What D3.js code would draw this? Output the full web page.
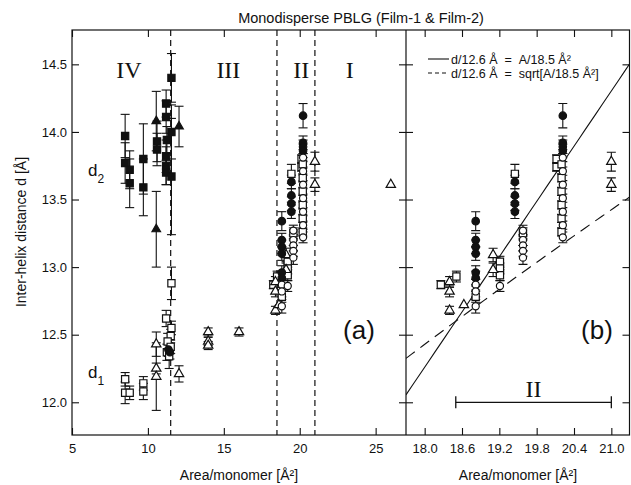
<!DOCTYPE html>
<html>
<head>
<meta charset="utf-8">
<script src="https://cdn.jsdelivr.net/npm/d3@7"></script>
<style>
  body { margin: 0; background: #fff; }
  text { font-family: "Liberation Sans", Arial, sans-serif; fill: #111; }
</style>
</head>
<body>
<svg></svg>
<script>
// each point: [area per monomer (Å²), inter-helix distance d (Å), error (Å)]
const filledSquares = [
  [8.5, 13.97, 0.16], [8.5, 13.77, 0.15], [8.8, 13.72, 0.14], [8.8, 13.62, 0.18],
  [9.7, 13.80, 0.26], [9.7, 13.59, 0.21], [10.6, 13.93, 0.15], [10.6, 13.87, 0.12],
  [11.2, 14.21, 0.10], [11.2, 14.11, 0.12], [11.25, 13.94, 0.10], [11.2, 13.82, 0.12],
  [11.2, 13.75, 0.14], [11.2, 13.70, 0.09], [11.55, 14.40, 0.18], [11.55, 14.00, 0.20],
  [11.55, 13.67, 0.43]
];
const filledTriangles = [
  [10.55, 14.08, 0.22], [10.55, 13.28, 0.28], [12.05, 14.04, 0.15]
];
const openSquares = [
  [8.5, 12.17, 0.05], [8.5, 12.07, 0.08], [8.8, 12.07, 0.05], [9.7, 12.14, 0.05],
  [9.7, 12.08, 0.06], [11.2, 12.62, 0.06], [11.55, 12.88, 0.12], [11.55, 12.55, 0.05],
  [11.5, 12.49, 0.05], [11.3, 12.45, 0.06], [11.5, 12.41, 0.05], [11.25, 12.37, 0.06],
  [11.4, 12.34, 0.09],
  [18.26, 12.87, 0.03], [18.51, 12.93, 0.04], [18.82, 12.78, 0.04], [19.21, 13.04, 0.04],
  [19.21, 12.99, 0.04], [19.21, 12.94, 0.04], [19.45, 13.69, 0.07], [19.58, 13.25, 0.04],
  [20.12, 13.80, 0.03], [20.12, 13.74, 0.03], [20.2, 13.76, 0.03], [20.2, 13.66, 0.03],
  [20.2, 13.56, 0.03], [20.2, 13.46, 0.03], [20.2, 13.36, 0.03], [20.2, 13.26, 0.03]
];
const filledCircles = [
  [11.35, 12.39, 0.05], [11.45, 12.37, 0.05],
  [18.82, 13.34, 0.07], [18.82, 13.20, 0.05], [18.82, 13.15, 0.05], [18.82, 13.10, 0.05],
  [18.82, 12.96, 0.05], [18.82, 12.92, 0.05], [19.45, 13.63, 0.05], [19.45, 13.53, 0.05],
  [19.45, 13.47, 0.05], [19.45, 13.41, 0.05], [20.22, 14.12, 0.09], [20.22, 13.92, 0.05],
  [20.22, 13.89, 0.05], [20.22, 13.86, 0.05]
];
const openCircles = [
  [18.82, 12.87, 0.04], [18.82, 12.82, 0.04], [18.82, 12.71, 0.05], [19.21, 12.86, 0.04],
  [19.58, 13.27, 0.04], [19.58, 13.20, 0.04], [19.58, 13.16, 0.04], [19.58, 13.12, 0.04],
  [19.58, 13.07, 0.05], [20.22, 13.81, 0.03], [20.22, 13.71, 0.03], [20.22, 13.61, 0.03],
  [20.22, 13.51, 0.03], [20.22, 13.41, 0.03], [20.22, 13.31, 0.03], [20.22, 13.22, 0.04]
];
const openTriangles = [
  [10.55, 12.43, 0.09], [10.55, 12.25, 0.04], [10.55, 12.19, 0.25], [12.05, 12.21, 0.06],
  [13.97, 12.52, 0.03], [13.97, 12.45, 0.03], [13.97, 12.42, 0.03], [16.0, 12.52, 0.03],
  [18.4, 12.89, 0.04], [18.4, 12.82, 0.04], [18.4, 12.68, 0.03], [18.63, 12.72, 0],
  [19.1, 13.09, 0.05], [19.1, 12.98, 0.05], [21.0, 13.78, 0.07], [21.0, 13.61, 0.05],
  [26.0, 13.61, 0]
];

const xTicksA = [5, 10, 15, 20, 25];
const xTicksB = [18.0, 18.6, 19.2, 19.8, 20.4, 21.0];
const yTicks = [12.0, 12.5, 13.0, 13.5, 14.0, 14.5];
const boundaries = [11.5, 18.5, 21.0];
const regionLabels = ["IV", "III", "II", "I"];
const regionCentres = [8.75, 15.3, 20.1, 23.3];
const fitD = 12.6, fitA = 18.5;
const regionTwo = [18.5, 21.0];

const W = 631, H = 485;
const yTop = 30, yBottom = 435;
const ax0 = 72, ax1 = 406, bx1 = 629.5;

const svg = d3.select("svg").attr("width", W).attr("height", H);

const y = d3.scaleLinear().domain([11.758, 14.754]).range([yBottom, yTop]);
const xA = d3.scaleLinear().domain([5, 27]).range([ax0, ax1]);
const xB = d3.scaleLinear().domain([17.7, 21.3]).range([ax1, bx1 + 0.5]);

const defs = svg.append("defs");
defs.append("clipPath").attr("id", "clipA")
  .append("rect").attr("x", ax0).attr("y", yTop).attr("width", ax1 - ax0).attr("height", yBottom - yTop);
defs.append("clipPath").attr("id", "clipB")
  .append("rect").attr("x", ax1).attr("y", yTop).attr("width", bx1 - ax1).attr("height", yBottom - yTop);

const series = [
  { pts: filledSquares, sym: d3.symbolSquare, size: 52, fill: "#111" },
  { pts: openSquares, sym: d3.symbolSquare, size: 52, fill: "#fff" },
  { pts: filledTriangles, sym: d3.symbolTriangle, size: 32, fill: "#111" },
  { pts: openTriangles, sym: d3.symbolTriangle, size: 38, fill: "#fff" },
  { pts: filledCircles, sym: d3.symbolCircle, size: 44, fill: "#111" },
  { pts: openCircles, sym: d3.symbolCircle, size: 40, fill: "#fff" }
];

function drawPoints(g, x) {
  const cap = 4.5;
  series.forEach(s => {
    const eb = g.append("g").attr("stroke", "#111").attr("stroke-width", 1.1);
    s.pts.filter(d => d[2] > 0).forEach(d => {
      const px = x(d[0]), y0 = y(d[1] - d[2]), y1 = y(d[1] + d[2]);
      eb.append("line").attr("x1", px).attr("x2", px).attr("y1", y0).attr("y2", y1);
      eb.append("line").attr("x1", px - cap).attr("x2", px + cap).attr("y1", y0).attr("y2", y0);
      eb.append("line").attr("x1", px - cap).attr("x2", px + cap).attr("y1", y1).attr("y2", y1);
    });
  });
  series.forEach(s => {
    g.append("g").selectAll("path")
      .data(s.pts)
      .enter()
      .append("path")
      .attr("transform", d => `translate(${x(d[0])},${y(d[1])})`)
      .attr("d", d3.symbol().type(s.sym).size(s.size))
      .attr("fill", s.fill)
      .attr("stroke", "#111")
      .attr("stroke-width", 1.2);
  });
}

// --- panel (a) ---
const gA = svg.append("g").attr("clip-path", "url(#clipA)");
boundaries.forEach(b => {
  gA.append("line")
    .attr("x1", xA(b)).attr("x2", xA(b)).attr("y1", yTop).attr("y2", yBottom)
    .attr("stroke", "#111").attr("stroke-width", 1.2).attr("stroke-dasharray", "6,4");
});
drawPoints(gA, xA);

regionLabels.forEach((r, i) => {
  svg.append("text")
    .attr("x", xA(regionCentres[i])).attr("y", 78)
    .attr("text-anchor", "middle")
    .style("font-family", "'Liberation Serif', 'Times New Roman', serif")
    .style("font-size", "24px")
    .text(r);
});

// d2 / d1 labels
[["2", 176], ["1", 378]].forEach(([sub, yy]) => {
  const t = svg.append("text").attr("x", 88).attr("y", yy).style("font-size", "17px");
  t.append("tspan").text("d");
  t.append("tspan").attr("dy", 7).style("font-size", "12px").text(sub);
});

svg.append("text").attr("x", 359).attr("y", 339).attr("text-anchor", "middle")
  .style("font-size", "26px").text("(a)");

// --- panel (b) ---
const gB = svg.append("g").attr("clip-path", "url(#clipB)");
const fitXs = d3.range(0, 41).map(i => 17.7 + i * 0.09);
gB.append("path")
  .datum(fitXs)
  .attr("fill", "none").attr("stroke", "#111").attr("stroke-width", 1.1)
  .attr("d", d3.line().x(a => xB(a)).y(a => y(fitD * a / fitA)));
gB.append("path")
  .datum(fitXs)
  .attr("fill", "none").attr("stroke", "#111").attr("stroke-width", 1.1)
  .attr("stroke-dasharray", "11,7")
  .attr("d", d3.line().x(a => xB(a)).y(a => y(fitD * Math.sqrt(a / fitA))));
drawPoints(gB, xB);

// region II bar
const barY = y(12.0);
svg.append("line").attr("x1", xB(regionTwo[0])).attr("x2", xB(regionTwo[1]))
  .attr("y1", barY).attr("y2", barY).attr("stroke", "#111").attr("stroke-width", 1.3);
regionTwo.forEach(v => {
  svg.append("line").attr("x1", xB(v)).attr("x2", xB(v))
    .attr("y1", barY - 6).attr("y2", barY + 6).attr("stroke", "#111").attr("stroke-width", 1.3);
});
svg.append("text")
  .attr("x", xB(d3.mean(regionTwo))).attr("y", 397)
  .attr("text-anchor", "middle")
  .style("font-family", "'Liberation Serif', 'Times New Roman', serif")
  .style("font-size", "24px")
  .text("II");

svg.append("text").attr("x", 597).attr("y", 339).attr("text-anchor", "middle")
  .style("font-size", "26px").text("(b)");

// legend
const legend = svg.append("g").attr("transform", "translate(428, 59)");
legend.append("line").attr("x1", 0).attr("x2", 21).attr("y1", 0).attr("y2", 0)
  .attr("stroke", "#111").attr("stroke-width", 1.1);
legend.append("line").attr("x1", 0).attr("x2", 21).attr("y1", 14).attr("y2", 14)
  .attr("stroke", "#111").attr("stroke-width", 1.1).attr("stroke-dasharray", "4,3");
legend.append("text").attr("x", 23).attr("y", 4.5).style("font-size", "12.5px")
  .text("d/12.6 Å\u00a0\u00a0=\u00a0\u00a0A/18.5 Å²");
legend.append("text").attr("x", 23).attr("y", 18.5).style("font-size", "12.5px")
  .text("d/12.6 Å\u00a0\u00a0=\u00a0\u00a0sqrt[A/18.5 Å²]");

// --- axes ---
const tick = 7;
function styleAxis(g) {
  g.select(".domain").remove();
  g.selectAll("line").attr("stroke", "#111").attr("stroke-width", 1.1);
  g.selectAll("text").style("font-size", "13px").attr("fill", "#111");
}

svg.append("g").attr("transform", `translate(0,${yBottom})`)
  .call(d3.axisBottom(xA).tickValues(xTicksA).tickFormat(d3.format("d"))
    .tickSizeInner(-tick).tickSizeOuter(0).tickPadding(9))
  .call(styleAxis);
svg.append("g").attr("transform", `translate(0,${yTop})`)
  .call(d3.axisTop(xA).tickValues(xTicksA).tickFormat("").tickSizeInner(-tick).tickSizeOuter(0))
  .call(styleAxis);
svg.append("g").attr("transform", `translate(0,${yBottom})`)
  .call(d3.axisBottom(xB).tickValues(xTicksB).tickFormat(d3.format(".1f"))
    .tickSizeInner(-tick).tickSizeOuter(0).tickPadding(9))
  .call(styleAxis);
svg.append("g").attr("transform", `translate(0,${yTop})`)
  .call(d3.axisTop(xB).tickValues(xTicksB).tickFormat("").tickSizeInner(-tick).tickSizeOuter(0))
  .call(styleAxis);

svg.append("g").attr("transform", `translate(${ax0},0)`)
  .call(d3.axisLeft(y).tickValues(yTicks).tickFormat(d3.format(".1f"))
    .tickSizeInner(-tick).tickSizeOuter(0).tickPadding(5))
  .call(styleAxis);
svg.append("g").attr("transform", `translate(${ax1},0)`)
  .call(d3.axisRight(y).tickValues(yTicks).tickFormat("").tickSizeInner(-tick).tickSizeOuter(0))
  .call(styleAxis);
svg.append("g").attr("transform", `translate(${ax1},0)`)
  .call(d3.axisLeft(y).tickValues(yTicks).tickFormat("").tickSizeInner(-tick).tickSizeOuter(0))
  .call(styleAxis);
svg.append("g").attr("transform", `translate(${bx1},0)`)
  .call(d3.axisRight(y).tickValues(yTicks).tickFormat("").tickSizeInner(-tick).tickSizeOuter(0))
  .call(styleAxis);

// frames
svg.append("rect").attr("x", ax0).attr("y", yTop).attr("width", bx1 - ax0).attr("height", yBottom - yTop)
  .attr("fill", "none").attr("stroke", "#111").attr("stroke-width", 1.2);
svg.append("line").attr("x1", ax1).attr("x2", ax1).attr("y1", yTop).attr("y2", yBottom)
  .attr("stroke", "#111").attr("stroke-width", 1.2);

// titles and axis labels
svg.append("text").attr("x", 361).attr("y", 23).attr("text-anchor", "middle")
  .style("font-size", "14.5px").text("Monodisperse PBLG (Film-1 & Film-2)");
svg.append("text").attr("x", 239).attr("y", 480).attr("text-anchor", "middle")
  .style("font-size", "14px").text("Area/monomer [Å²]");
svg.append("text").attr("x", 518).attr("y", 480).attr("text-anchor", "middle")
  .style("font-size", "14px").text("Area/monomer [Å²]");
svg.append("text").attr("transform", "translate(26,232) rotate(-90)").attr("text-anchor", "middle")
  .style("font-size", "14px").text("Inter-helix distance d [Å]");
</script>
</body>
</html>
